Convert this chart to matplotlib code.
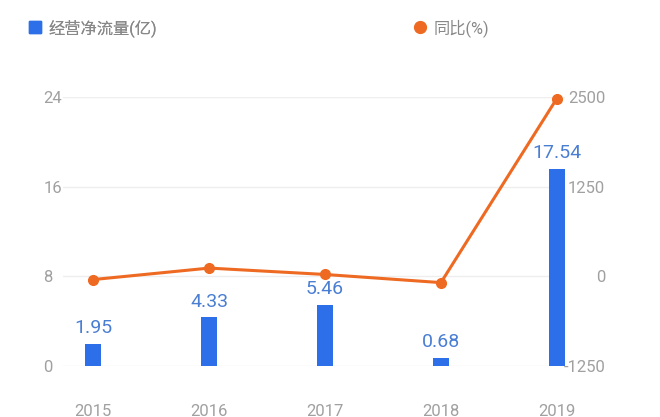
import matplotlib
matplotlib.use('Agg')
import matplotlib.pyplot as plt
from matplotlib.lines import Line2D
import numpy as np

plt.rcParams['font.family'] = ['Roboto', 'Noto Sans CJK SC', 'DejaVu Sans']

years = ["2015", "2016", "2017", "2018", "2019"]
cash_flow = [1.95, 4.33, 5.46, 0.68, 17.54]   # 经营净流量(亿)
yoy = [-45, 115, 26, -87.5, 2479]             # 同比(%)
left_ticks = [0, 8, 16, 24]
right_ticks = [-1250, 0, 1250, 2500]

blue = '#2d6fe8'
orange = '#ee6a22'
gray = '#a0a0a0'

fig = plt.figure(figsize=(6.6, 4.17), dpi=100)
ax = fig.add_axes([0.0955, 0.1223, 0.7605, 0.6451])
ax2 = ax.twinx()
# bars sit above the right-hand tick labels (hides the minus of -1250 like the original)
ax.set_zorder(ax2.get_zorder() + 1)
ax.patch.set_visible(False)

x = np.arange(len(years))
ax.bar(x, cash_flow, width=0.14, color=blue, zorder=2)
for xi, v in zip(x, cash_flow):
    ax.annotate(f"{v:.2f}", (xi, v), xytext=(0, 5), textcoords='offset points',
                ha='center', va='bottom', fontsize=14, color='#4a7ed2')

ax2.plot(x, yoy, color=orange, lw=2.2, marker='o', ms=7, clip_on=False, zorder=3)

ax.set_xlim(-0.26, 4.07)
ax.set_ylim(0, 24)
ax2.set_ylim(-1250, 2500)
ax.set_yticks(left_ticks)
ax.set_yticklabels([str(t) for t in left_ticks], ha='left')
ax2.set_yticks(right_ticks)
ax2.set_yticklabels([str(t) for t in right_ticks], ha='right')
ax.set_xticks(x)
ax.set_xticklabels(years)

ax.tick_params(axis='y', length=0, pad=14, labelsize=12, labelcolor=gray)
ax2.tick_params(axis='y', length=0, pad=29, labelsize=12, labelcolor=gray)
ax.tick_params(axis='x', length=0, pad=27, labelsize=12, labelcolor=gray)

ax2.grid(axis='y', color='#eeeeee', lw=1, zorder=0)
ax2.set_axisbelow(True)
for a in (ax, ax2):
    for s in a.spines.values():
        s.set_visible(False)

h1 = [Line2D([], [], marker='s', ls='', color=blue, ms=8.5)]
h2 = [Line2D([], [], marker='o', ls='', color=orange, ms=8.5)]
leg1 = fig.legend(h1, ['经营净流量(亿)'], loc='center left', bbox_to_anchor=(0.028, 0.933),
                  frameon=False, fontsize=11.7, labelcolor='#888888',
                  handletextpad=0.35, handlelength=1.0, borderpad=0)
leg2 = fig.legend(h2, ['同比(%)'], loc='center left', bbox_to_anchor=(0.612, 0.933),
                  frameon=False, fontsize=11.7, labelcolor='#888888',
                  handletextpad=0.3, handlelength=1.0, borderpad=0)
fig.add_artist(leg1)

fig.savefig('out.png', dpi=100)
plt.close()
